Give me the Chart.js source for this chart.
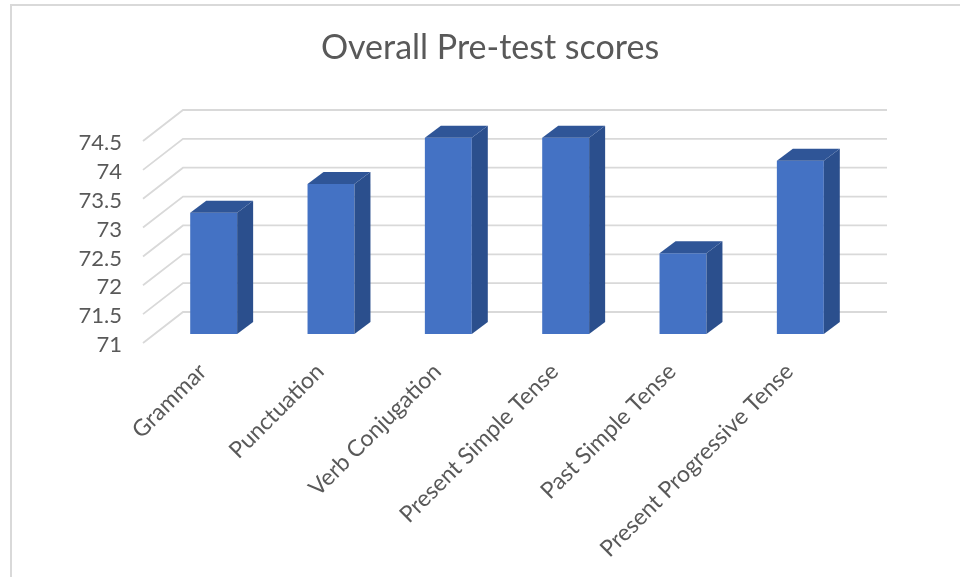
<!DOCTYPE html>
<html><head><meta charset="utf-8">
<script src="https://cdn.jsdelivr.net/npm/chart.js@4/dist/chart.umd.min.js"></script>
<style>
html,body{margin:0;padding:0;background:#fff;overflow:hidden}
#wrap{position:relative;width:960px;height:577px}
#frame{position:absolute;left:10px;top:4px;width:1000px;height:1000px;border:2px solid #d9d9d9;box-sizing:border-box}
canvas{position:absolute;left:0;top:0}
</style></head><body>
<div id="wrap"><div id="frame"></div><canvas id="c" width="960" height="577"></canvas></div>
<script>
const categories = ["Grammar", "Punctuation", "Verb Conjugation", "Present Simple Tense", "Past Simple Tense", "Present Progressive Tense"];
const scores = [73.1, 73.6, 74.4, 74.4, 72.4, 74.0];
const yMin = 71;
const yMax = 74.5;
const yStep = 0.5;
const titleText = "Overall Pre-test scores";

const DEPTH = {dx: 16, dy: -12};   // bar depth
const FRONT = {dx: -12, dy: 9};    // front plane relative to bar plane
const BACK = {dx: 28, dy: -22};    // back wall relative to bar plane
const GREY = '#595959';

const threeD = {
  id: 'threeD',
  beforeDatasetsDraw(chart) {
    const {ctx, chartArea: a, scales: {y}} = chart;
    ctx.save();
    ctx.strokeStyle = '#d9d9d9';
    ctx.lineWidth = 1.8;
    y.ticks.forEach(t => {
      const py = y.getPixelForValue(t.value);
      ctx.beginPath();
      ctx.moveTo(a.left + FRONT.dx, py + FRONT.dy);
      ctx.lineTo(a.left + BACK.dx, py + BACK.dy);
      ctx.lineTo(a.right + BACK.dx, py + BACK.dy);
      ctx.stroke();
    });
    ctx.restore();
  },
  afterDatasetsDraw(chart) {
    const {ctx, chartArea: a} = chart;
    const meta = chart.getDatasetMeta(0);
    ctx.save();
    meta.data.forEach(bar => {
      const p = bar.getProps(['x', 'y', 'base', 'width'], true);
      const l = p.x - p.width / 2, r = p.x + p.width / 2, t = p.y;
      const b = Math.min(p.base, a.bottom);
      // side face
      ctx.fillStyle = '#2b4f8d';
      ctx.beginPath();
      ctx.moveTo(r, t); ctx.lineTo(r + DEPTH.dx, t + DEPTH.dy);
      ctx.lineTo(r + DEPTH.dx, b + DEPTH.dy); ctx.lineTo(r, b);
      ctx.closePath(); ctx.fill();
      // top face
      ctx.fillStyle = '#2f5597';
      ctx.beginPath();
      ctx.moveTo(l, t); ctx.lineTo(l + DEPTH.dx, t + DEPTH.dy);
      ctx.lineTo(r + DEPTH.dx, t + DEPTH.dy); ctx.lineTo(r, t);
      ctx.closePath(); ctx.fill();
    });
    ctx.restore();
  }
};

new Chart(document.getElementById('c'), {
  type: 'bar',
  data: {
    labels: categories,
    datasets: [{
      data: scores,
      backgroundColor: '#4472c4',
      borderWidth: 0,
      barPercentage: 0.4,
      categoryPercentage: 1.0
    }]
  },
  options: {
    responsive: false,
    animation: false,
    layout: {padding: {left: 60, right: 40, top: 0, bottom: 0}},
    plugins: {
      legend: {display: false},
      tooltip: {enabled: false},
      title: {
        display: true,
        text: titleText,
        color: GREY,
        font: {family: 'Lato', size: 34, weight: 'normal', lineHeight: 1.2},
        padding: {top: 28, bottom: 63.2}
      }
    },
    scales: {
      x: {
        grid: {display: false, drawTicks: false},
        border: {display: false},
        ticks: {
          color: GREY,
          font: {family: 'Lato', size: 23},
          minRotation: 45, maxRotation: 45,
          autoSkip: false,
          padding: 24,
          labelOffset: -11
        },
        afterFit: s => { s.height = 243; }
      },
      y: {
        min: yMin, max: yMax,
        grid: {display: false, drawTicks: false},
        border: {display: false},
        ticks: {
          stepSize: yStep,
          autoSkip: false,
          color: GREY,
          font: {family: 'Lato', size: 22},
          padding: 33,
          labelOffset: 11,
          callback: v => String(v)
        },
        afterFit: s => { s.width = 95; }
      },
      yRight: {
        position: 'right',
        grid: {display: false, drawTicks: false},
        border: {display: false},
        ticks: {display: false},
        afterFit: s => { s.width = 61; }
      }
    }
  },
  plugins: [threeD]
});
</script>
</body></html>
